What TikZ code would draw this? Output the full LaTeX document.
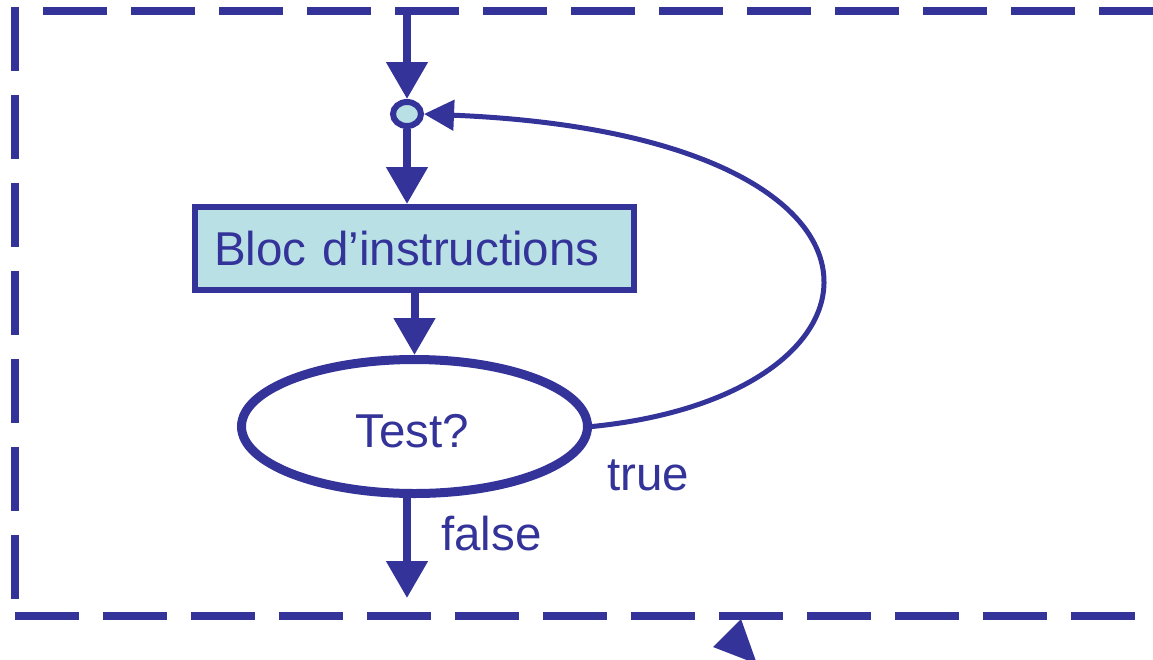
\documentclass[tikz,border=0pt]{standalone}
\usepackage{fontspec}
\setmainfont{Liberation Sans}
\usetikzlibrary{arrows.meta,shapes.geometric}
\definecolor{navy}{HTML}{333399}
\definecolor{pale}{HTML}{B9E0E4}
\begin{document}
\begin{tikzpicture}[x=1pt,y=-1pt,
  every node/.style={text=navy, font=\fontsize{47.5}{57}\selectfont},
  frame/.style={draw=navy, line width=8pt, dash pattern=on 64pt off 24pt},
  conn/.style={draw=navy, line width=8pt, -{Triangle[length=37pt,width=40pt]}},
  loopconn/.style={draw=navy, line width=5pt, -{Triangle[length=30pt,width=30pt]}},
  lbl/.style={anchor=base west, inner sep=0pt}
]
\useasboundingbox (0,0) rectangle (1153,659);

% dashed frame
\draw[frame] (15,7) -- (15,600);
\draw[frame] (43,11) -- (1165,11);
\draw[frame] (15,615.5) -- (1135,615.5);

% nodes
\node[draw=navy, fill=pale, line width=6pt, ellipse, minimum width=28pt,
      minimum height=24pt, inner sep=0pt] (junc) at (407,114) {};
\node[draw=navy, fill=pale, line width=6pt, minimum width=439pt, minimum height=83pt,
      text width=401pt, inner xsep=19pt, align=left] (bloc) at (414.5,248.5) {Bloc d’instructions};
\node[draw=navy, fill=white, line width=9pt, ellipse, minimum width=346pt,
      minimum height=134pt, inner sep=0pt] (test) at (414.5,426.5) {};
\node[anchor=base, inner sep=0pt] (testlbl) at (412.5,447) {Test?};
\node[lbl] (truelbl) at (607,490) {true};
\node[lbl] (falselbl) at (441,550) {false};

\coordinate (topin) at (407,11);
\coordinate (out) at (407,598);

% connectors
\draw[conn] (topin) -- (junc.north);
\draw[conn] (junc.south) -- (junc.south |- bloc.north);
\draw[conn] (bloc.south) -- (test.north);
\draw[conn] (test.south -| junc.center) -- (out);
\draw[loopconn] (test.east) .. controls (910,395) and (935,135) .. (junc.east);

% partial arrowhead at the bottom
\fill[navy] (741,619) -- (713,647) -- (757,664) -- cycle;
\end{tikzpicture}
\end{document}
